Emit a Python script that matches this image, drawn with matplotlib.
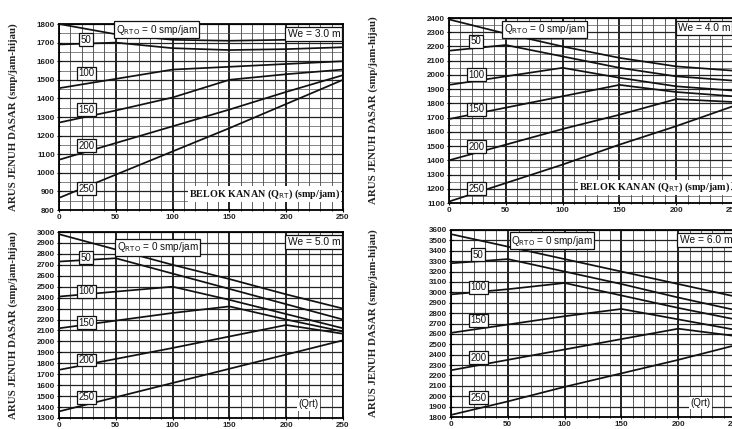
import matplotlib
matplotlib.use("Agg")
import matplotlib.pyplot as plt
from matplotlib.ticker import MultipleLocator

# ---------------- data ----------------
q_rt = [0, 50, 100, 150, 200, 250]          # belok kanan (smp/jam)
q_rto_labels = ["0", "50", "100", "150", "200", "250"]
x_ticks = [0, 50, 100, 150, 200, 250]

# We = 3.0 m
w30_q0 = [1800, 1745, 1715, 1710, 1715, 1735]
w30_q50 = [1690, 1700, 1670, 1660, 1665, 1675]
w30_q100 = [1455, 1505, 1555, 1570, 1585, 1600]
w30_q150 = [1270, 1335, 1405, 1500, 1530, 1555]
w30_q200 = [1070, 1160, 1250, 1340, 1435, 1525]
w30_q250 = [865, 990, 1115, 1240, 1370, 1500]

# We = 4.0 m
w40_q0 = [2390, 2290, 2200, 2120, 2060, 2030]
w40_q50 = [2170, 2210, 2130, 2050, 1990, 1960]
w40_q100 = [1930, 1990, 2050, 1980, 1920, 1890]
w40_q150 = [1690, 1770, 1850, 1930, 1880, 1850]
w40_q200 = [1400, 1510, 1620, 1720, 1830, 1810]
w40_q250 = [1110, 1240, 1370, 1510, 1640, 1780]

# We = 5.0 m
w50_q0 = [2980, 2840, 2700, 2570, 2430, 2300]
w50_q50 = [2730, 2760, 2620, 2480, 2340, 2200]
w50_q100 = [2410, 2455, 2500, 2380, 2250, 2120]
w50_q150 = [2120, 2190, 2260, 2320, 2200, 2090]
w50_q200 = [1740, 1840, 1940, 2045, 2150, 2070]
w50_q250 = [1360, 1490, 1620, 1750, 1880, 2010]

# We = 6.0 m
w60_q0 = [3560, 3440, 3320, 3200, 3080, 2960]
w60_q50 = [3280, 3320, 3200, 3080, 2950, 2830]
w60_q100 = [2980, 3030, 3090, 2970, 2850, 2740]
w60_q150 = [2610, 2690, 2770, 2840, 2740, 2640]
w60_q200 = [2250, 2350, 2450, 2550, 2650, 2580]
w60_q250 = [1820, 1950, 2090, 2220, 2350, 2490]

we_values = ["3.0", "4.0", "5.0", "6.0"]

# ---------------- layout ----------------
W, H = 732, 429
def rect(l, r, t, b):
    return [l / W, 1 - b / H, (r - l) / W, (b - t) / H]

panels = [
    dict(rect=rect(59, 343, 24, 210), ylim=(800, 1800), ystep=100, yminor=50,
         curves=[w30_q0, w30_q50, w30_q100, w30_q150, w30_q200, w30_q250],
         lab_y=[1715, 1535, 1340, 1145, 915], rto_xy=(50, 1770), bottom="belok",
         ylab_x=13),
    dict(rect=rect(449, 733, 18, 203), ylim=(1100, 2400), ystep=100, yminor=50,
         curves=[w40_q0, w40_q50, w40_q100, w40_q150, w40_q200, w40_q250],
         lab_y=[2238, 2000, 1760, 1494, 1200], rto_xy=(48, 2320), bottom="belok",
         ylab_x=373),
    dict(rect=rect(59, 343, 232, 418), ylim=(1300, 3000), ystep=100, yminor=100,
         curves=[w50_q0, w50_q50, w50_q100, w50_q150, w50_q200, w50_q250],
         lab_y=[2764, 2460, 2170, 1830, 1490], rto_xy=(51, 2860), bottom="qrt",
         ylab_x=13),
    dict(rect=rect(451, 735, 230, 417), ylim=(1800, 3600), ystep=100, yminor=100,
         curves=[w60_q0, w60_q50, w60_q100, w60_q150, w60_q200, w60_q250],
         lab_y=[3360, 3050, 2730, 2370, 1985], rto_xy=(53, 3495), bottom="qrt",
         ylab_x=373),
]

fig = plt.figure(figsize=(7.32, 4.29), dpi=100)
fig.patch.set_facecolor("white")

serif = ["Liberation Serif", "DejaVu Serif"]
sans = ["Liberation Sans", "DejaVu Sans"]

for p, we in zip(panels, we_values):
    ax = fig.add_axes(p["rect"])
    ax.set_xlim(0, 250)
    ax.set_ylim(*p["ylim"])
    ax.set_xticks(x_ticks)
    ax.xaxis.set_minor_locator(MultipleLocator(10))
    ax.yaxis.set_major_locator(MultipleLocator(p["ystep"]))
    ax.yaxis.set_minor_locator(MultipleLocator(p["yminor"]))
    ax.grid(which="major", axis="x", color="#111111", lw=1.3)
    ax.grid(which="minor", axis="x", color="#444444", lw=0.6)
    ax.grid(which="major", axis="y", color="#222222", lw=0.9)
    if p["yminor"] != p["ystep"]:
        ax.grid(which="minor", axis="y", color="#555555", lw=0.5)
    ax.set_axisbelow(True)
    for s in ax.spines.values():
        s.set_linewidth(1.3)
    ax.tick_params(axis="both", which="major", labelsize=5.8, length=3,
                   width=0.8, pad=1.5, direction="inout")
    ax.tick_params(axis="both", which="minor", length=2, width=0.6,
                   direction="inout")
    for lab in ax.get_xticklabels() + ax.get_yticklabels():
        lab.set_fontfamily(sans)
        lab.set_fontweight("bold")
        lab.set_color("#222222")

    for curve in p["curves"]:
        ax.plot(q_rt, curve, color="#111111", lw=1.25, zorder=3)

    for name, ly in zip(q_rto_labels[1:], p["lab_y"]):
        ax.text(24, ly, name, fontsize=7, family=sans, ha="center", va="center",
                zorder=5, color="#111111",
                bbox=dict(boxstyle="square,pad=0.15", fc="white", ec="#111111", lw=0.9))

    ax.text(p["rto_xy"][0], p["rto_xy"][1], r"Q$_{\mathrm{RTO}}$ = 0 smp/jam",
            fontsize=7.2, family=sans, ha="left", va="center", zorder=5, color="#111111",
            bbox=dict(boxstyle="square,pad=0.15", fc="white", ec="#111111", lw=0.9))

    ax.text(0.99, 0.975, f"We = {we} m", transform=ax.transAxes, fontsize=7.4,
            family=sans, ha="right", va="top", zorder=5, color="#111111",
            bbox=dict(boxstyle="square,pad=0.2", fc="white", ec="#111111", lw=0.9))

    if p["bottom"] == "belok":
        ax.text(0.99, 0.085, r"BELOK KANAN (Q$_{\mathrm{RT}}$) (smp/jam)",
                transform=ax.transAxes, fontsize=7.3, family=serif, fontweight="bold",
                ha="right", va="center", zorder=5, color="#111111",
                bbox=dict(boxstyle="square,pad=0.1", fc="white", ec="none"))
    else:
        ax.text(0.88, 0.075, "(Qrt)", transform=ax.transAxes, fontsize=7,
                family=sans, ha="center", va="center", zorder=5, color="#111111",
                bbox=dict(boxstyle="square,pad=0.15", fc="white", ec="none"))

    r = p["rect"]
    fig.text(p["ylab_x"] / W, r[1] + r[3] / 2, "ARUS JENUH DASAR (smp/jam-hijau)",
             rotation=90, ha="center", va="center", fontsize=7.8, family=serif,
             fontweight="bold", color="#222222")

fig.savefig("out.png", dpi=100, facecolor="white")
